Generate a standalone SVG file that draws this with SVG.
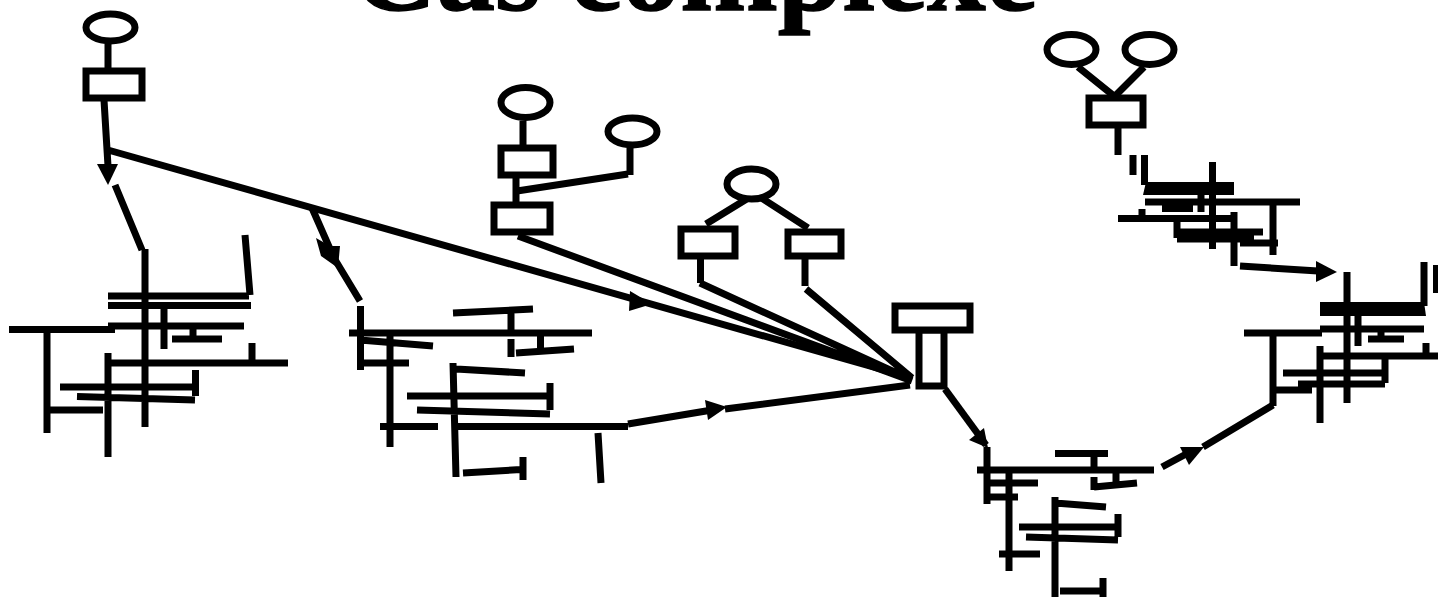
<svg xmlns="http://www.w3.org/2000/svg" width="1438" height="597" viewBox="0 0 1438 597">
<style>
.n{fill:#fff;stroke:#000;stroke-width:7}
.c line,.c path{stroke:#000;stroke-width:7;fill:none}
.c polygon{fill:#000;stroke:none}
.t{font-family:"Liberation Serif","Times New Roman",serif;font-weight:700;font-size:117px;fill:#000;stroke:#000;stroke-width:1.500}
</style>
<rect width="1438" height="597" fill="#fff"/>
<text class="t" x="352" y="10">Cas complexe</text>
<g id="connectors" class="c">
<path d="M108 44V68M104 100L108 166M108 150L912 378M115 185L142 250"/>
<polygon points="97,164 118,164 108,185"/>
<path d="M312 208L334 258L360 301"/>
<polygon points="316,238 321,256 338,268 340,246 330,246"/>
<polygon points="630,291 652,304 629,311"/>
<path d="M523 121V146M516 178V203M517 191L628 174M630 148V175M518 236L912 381M750 197L706 224M760 197L808 228M700.500 259V283M700 283L912 380M805 259V286M806 289L912 378"/>
<path d="M628 424L712 410M725 409L910 385"/>
<polygon points="705,400 708,420 727,407"/>
<path d="M945 389L986 445"/>
<polygon points="969,440 984,428 988,448"/>
<path d="M1162 467L1188 453M1203 447L1273 405"/>
<polygon points="1180,447 1189,465 1204,447"/>
<path d="M1078 67L1114 96M1144 67L1115 96M1118 128V155"/>
<path d="M1240 266L1318 271"/>
<polygon points="1316,261 1316,282 1337,272"/>
</g>
<g id="struct-a" class="c">
<path d="M145 249V427M245 235L250 295M108 296H249M108 305.500H251M9 329.500H115M108 326H244M164 305V349M193 326V337M172 339H222M108 353V457M108 363H288M252 343V363M47 329V433M47 410H103M60 387H196M195.500 370V396M77 396.500L195 400"/>
</g>
<g id="struct-b" class="c">
<path d="M360.500 306V370M349 333H592M360 340L433 346M390 333V447M360 363H409M453 313L533 309M511 309V333M511 339V357M540.500 333V348M516 353L574 349M453 363L456 477M456 369L525 373M407 396H550M550 383V410M417 410L550 414M380 426.500H438M456 426.500H628M598 433L601 483M463 473L521 469.500M523 457V480"/>
</g>
<g id="struct-c" class="c">
<path d="M987 447V504M977 470H1154M1055 453.500H1108M1094 453V470M1094 477V490M1094 487L1137 483M1116 470V485M987 483H1038M987 497H1018M1009 470V571M999 554H1040M1055 497V597M1055 503L1106 507M1019 527H1118M1118 514V537M1026 537L1118 540M1060 591H1101M1103 578V597"/>
</g>
<g id="struct-d" class="c">
<path d="M1133 155V175M1144.500 155V185M1212.500 162V249M1145 202H1300M1201 195V212M1142 209V219M1118 218.500H1232M1234 212V266M1177 219V238M1177 232H1263M1177 239H1254M1240 243H1278M1273 202V255"/>
<polygon points="1146,182 1234,182 1234,195 1143,195"/>
<rect x="1162" y="205" width="31" height="7" fill="#000"/>
</g>
<g id="struct-e" class="c">
<path d="M1347 272V403M1424 262V306M1436.500 265V293M1358 316V346M1320 329H1424M1244 333H1322M1273 333V406M1368 339H1404M1381 329V339M1320 346V423M1320 356H1438M1426 343V356M1385 356V383M1283 373H1385M1298 384H1385M1273 390H1312"/>
<polygon points="1320,302 1424,302 1426,316 1320,316"/>
</g>
<g id="oval-1"><ellipse class="n" cx="110.500" cy="27.500" rx="24.500" ry="13.500"/></g>
<g id="box-1"><rect class="n" x="86" y="71" width="56" height="27"/></g>
<g id="oval-2"><ellipse class="n" cx="525.500" cy="102.500" rx="24.500" ry="15"/></g>
<g id="box-2"><rect class="n" x="501" y="148" width="52" height="27"/></g>
<g id="box-3"><rect class="n" x="494" y="205" width="56" height="27"/></g>
<g id="oval-3"><ellipse class="n" cx="632.500" cy="131.500" rx="24.500" ry="13.500"/></g>
<g id="oval-4"><ellipse class="n" cx="751.500" cy="184" rx="24.500" ry="15"/></g>
<g id="box-4"><rect class="n" x="681" y="229" width="54" height="27"/></g>
<g id="box-5"><rect class="n" x="788" y="232" width="53" height="24"/></g>
<g id="oval-5"><ellipse class="n" cx="1071.500" cy="49.500" rx="24.500" ry="15"/></g>
<g id="oval-6"><ellipse class="n" cx="1149.500" cy="49.500" rx="24.500" ry="15"/></g>
<g id="box-6"><rect class="n" x="1089" y="98" width="54" height="27"/></g>
<g id="box-7"><rect class="n" x="919" y="330" width="25" height="56"/></g>
<g id="box-8"><rect class="n" x="895" y="306" width="75" height="24"/></g>
</svg>
